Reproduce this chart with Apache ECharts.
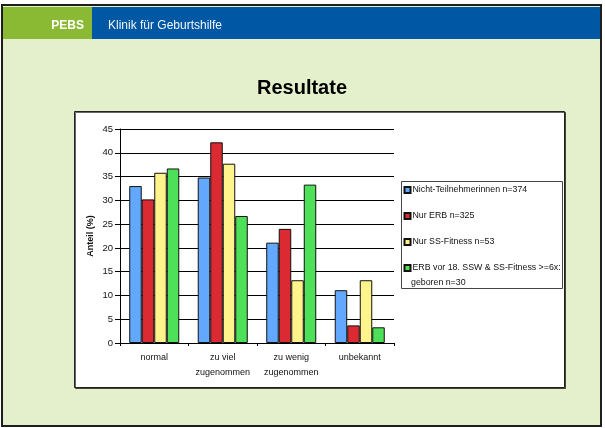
<!DOCTYPE html>
<html>
<head>
<meta charset="utf-8">
<script src="https://cdn.jsdelivr.net/npm/echarts@6/dist/echarts.min.js"></script>
<style>
	html, body { margin: 0; padding: 0; background: #fff; }
	#chart { width: 605px; height: 428px; }
</style>
</head>
<body>
<div id="chart"></div>
<script>
const categories = ["normal", "zu viel\nzugenommen", "zu wenig\nzugenommen", "unbekannt"];
const seriesNames = [
	"Nicht-Teilnehmerinnen n=374",
	"Nur ERB n=325",
	"Nur SS-Fitness n=53",
	"ERB vor 18. SSW & SS-Fitness >=6x: geboren n=30",
];
const nichtTeilnehmer = [33.0, 34.8, 21.1, 11.1];
const nurErb = [30.2, 42.2, 24.0, 3.7];
const nurFitness = [35.8, 37.7, 13.2, 13.2];
const erbUndFitness = [36.7, 26.7, 33.3, 3.3];
const yTicks = { min: 0, max: 45, interval: 5 };

const colors = ["#62a8ff", "#dc2a32", "#fff38c", "#4ee058"];
const font = "Liberation Sans, Arial, sans-serif";

const myChart = echarts.init(document.getElementById("chart"));

function barSeries(name, data, i) {
	return {
		name: name,
		type: "bar",
		data: data,
		barGap: "0%",
		barCategoryGap: "27%",
		itemStyle: { color: colors[i], borderColor: "#111", borderWidth: 1 },
	};
}

const option = {
	animation: false,
	textStyle: { fontFamily: font },
	graphic: [
		// rahmen + hintergrund
		{ type: "rect", z: -20, shape: { x: 2, y: 5, width: 599, height: 421 },
			style: { fill: "#e3f0cb", stroke: "#1e1e1e", lineWidth: 2 } },
		// kopfleiste
		{ type: "rect", z: -19, shape: { x: 3, y: 7, width: 597, height: 32 }, style: { fill: "#0057a3" } },
		{ type: "rect", z: -18, shape: { x: 3, y: 7, width: 89, height: 32 }, style: { fill: "#8ab934" } },
		{ type: "text", z: -17, style: { x: 84, y: 26, text: "PEBS", fill: "#fff", font: "bold 12px " + font, align: "right", verticalAlign: "middle" } },
		{ type: "text", z: -17, style: { x: 108, y: 26, text: "Klinik für Geburtshilfe", fill: "#f2f6fb", font: "12px " + font, verticalAlign: "middle" } },
		// titel
		{ type: "text", z: -17, style: { x: 302, y: 88, text: "Resultate", fill: "#000", font: "bold 20px " + font, align: "center", verticalAlign: "middle" } },
		// diagrammfläche
		{ type: "rect", z: -16, shape: { x: 74.5, y: 111.5, width: 490, height: 276 },
			style: { fill: "#fff", stroke: "#222", lineWidth: 1, shadowColor: "rgba(0,0,0,0.6)", shadowOffsetX: 1, shadowOffsetY: 1 } },
		// legendenrahmen
		{ type: "rect", z: -15, shape: { x: 401.5, y: 181.5, width: 161, height: 107 },
			style: { fill: "#fff", stroke: "#444", lineWidth: 1 } },
		{ type: "text", z: 5, style: { x: 411, y: 283, text: "geboren n=30", fill: "#111", font: "8.8px " + font, verticalAlign: "middle" } },
	],
	grid: { left: 120, top: 129, width: 274, height: 214, containLabel: false },
	legend: {
		orient: "vertical",
		left: 403.5,
		top: 185.5,
		padding: 0,
		itemWidth: 6,
		itemHeight: 6,
		itemGap: 17,
		icon: "rect",
		data: seriesNames,
		textStyle: { fontSize: 8.8, color: "#111", fontFamily: font, padding: [0, 0, 0, -3] },
		formatter: function (name) {
			return name.replace(" geboren n=30", "");
		},
	},
	xAxis: {
		type: "category",
		data: categories,
		axisLine: { lineStyle: { color: "#000", width: 1 } },
		axisTick: { show: true, length: 3, lineStyle: { color: "#000" } },
		axisLabel: { interval: 0, fontSize: 9, color: "#111", lineHeight: 15, margin: 7 },
	},
	yAxis: {
		type: "value",
		min: yTicks.min,
		max: yTicks.max,
		interval: yTicks.interval,
		name: "Anteil (%)",
		nameLocation: "middle",
		nameGap: 25,
		nameRotate: 90,
		nameTextStyle: { fontSize: 9, fontWeight: "bold", color: "#111" },
		axisLine: { show: true, lineStyle: { color: "#000", width: 1 } },
		axisTick: { show: true, length: 5, lineStyle: { color: "#000" } },
		axisLabel: { fontSize: 9.5, color: "#111", margin: 7 },
		splitLine: { show: true, lineStyle: { color: "#000", width: 1 } },
	},
	series: [
		barSeries(seriesNames[0], nichtTeilnehmer, 0),
		barSeries(seriesNames[1], nurErb, 1),
		barSeries(seriesNames[2], nurFitness, 2),
		barSeries(seriesNames[3], erbUndFitness, 3),
	],
};

myChart.setOption(option);

window.onresize = function () {
	myChart.resize();
};
</script>
</body>
</html>
